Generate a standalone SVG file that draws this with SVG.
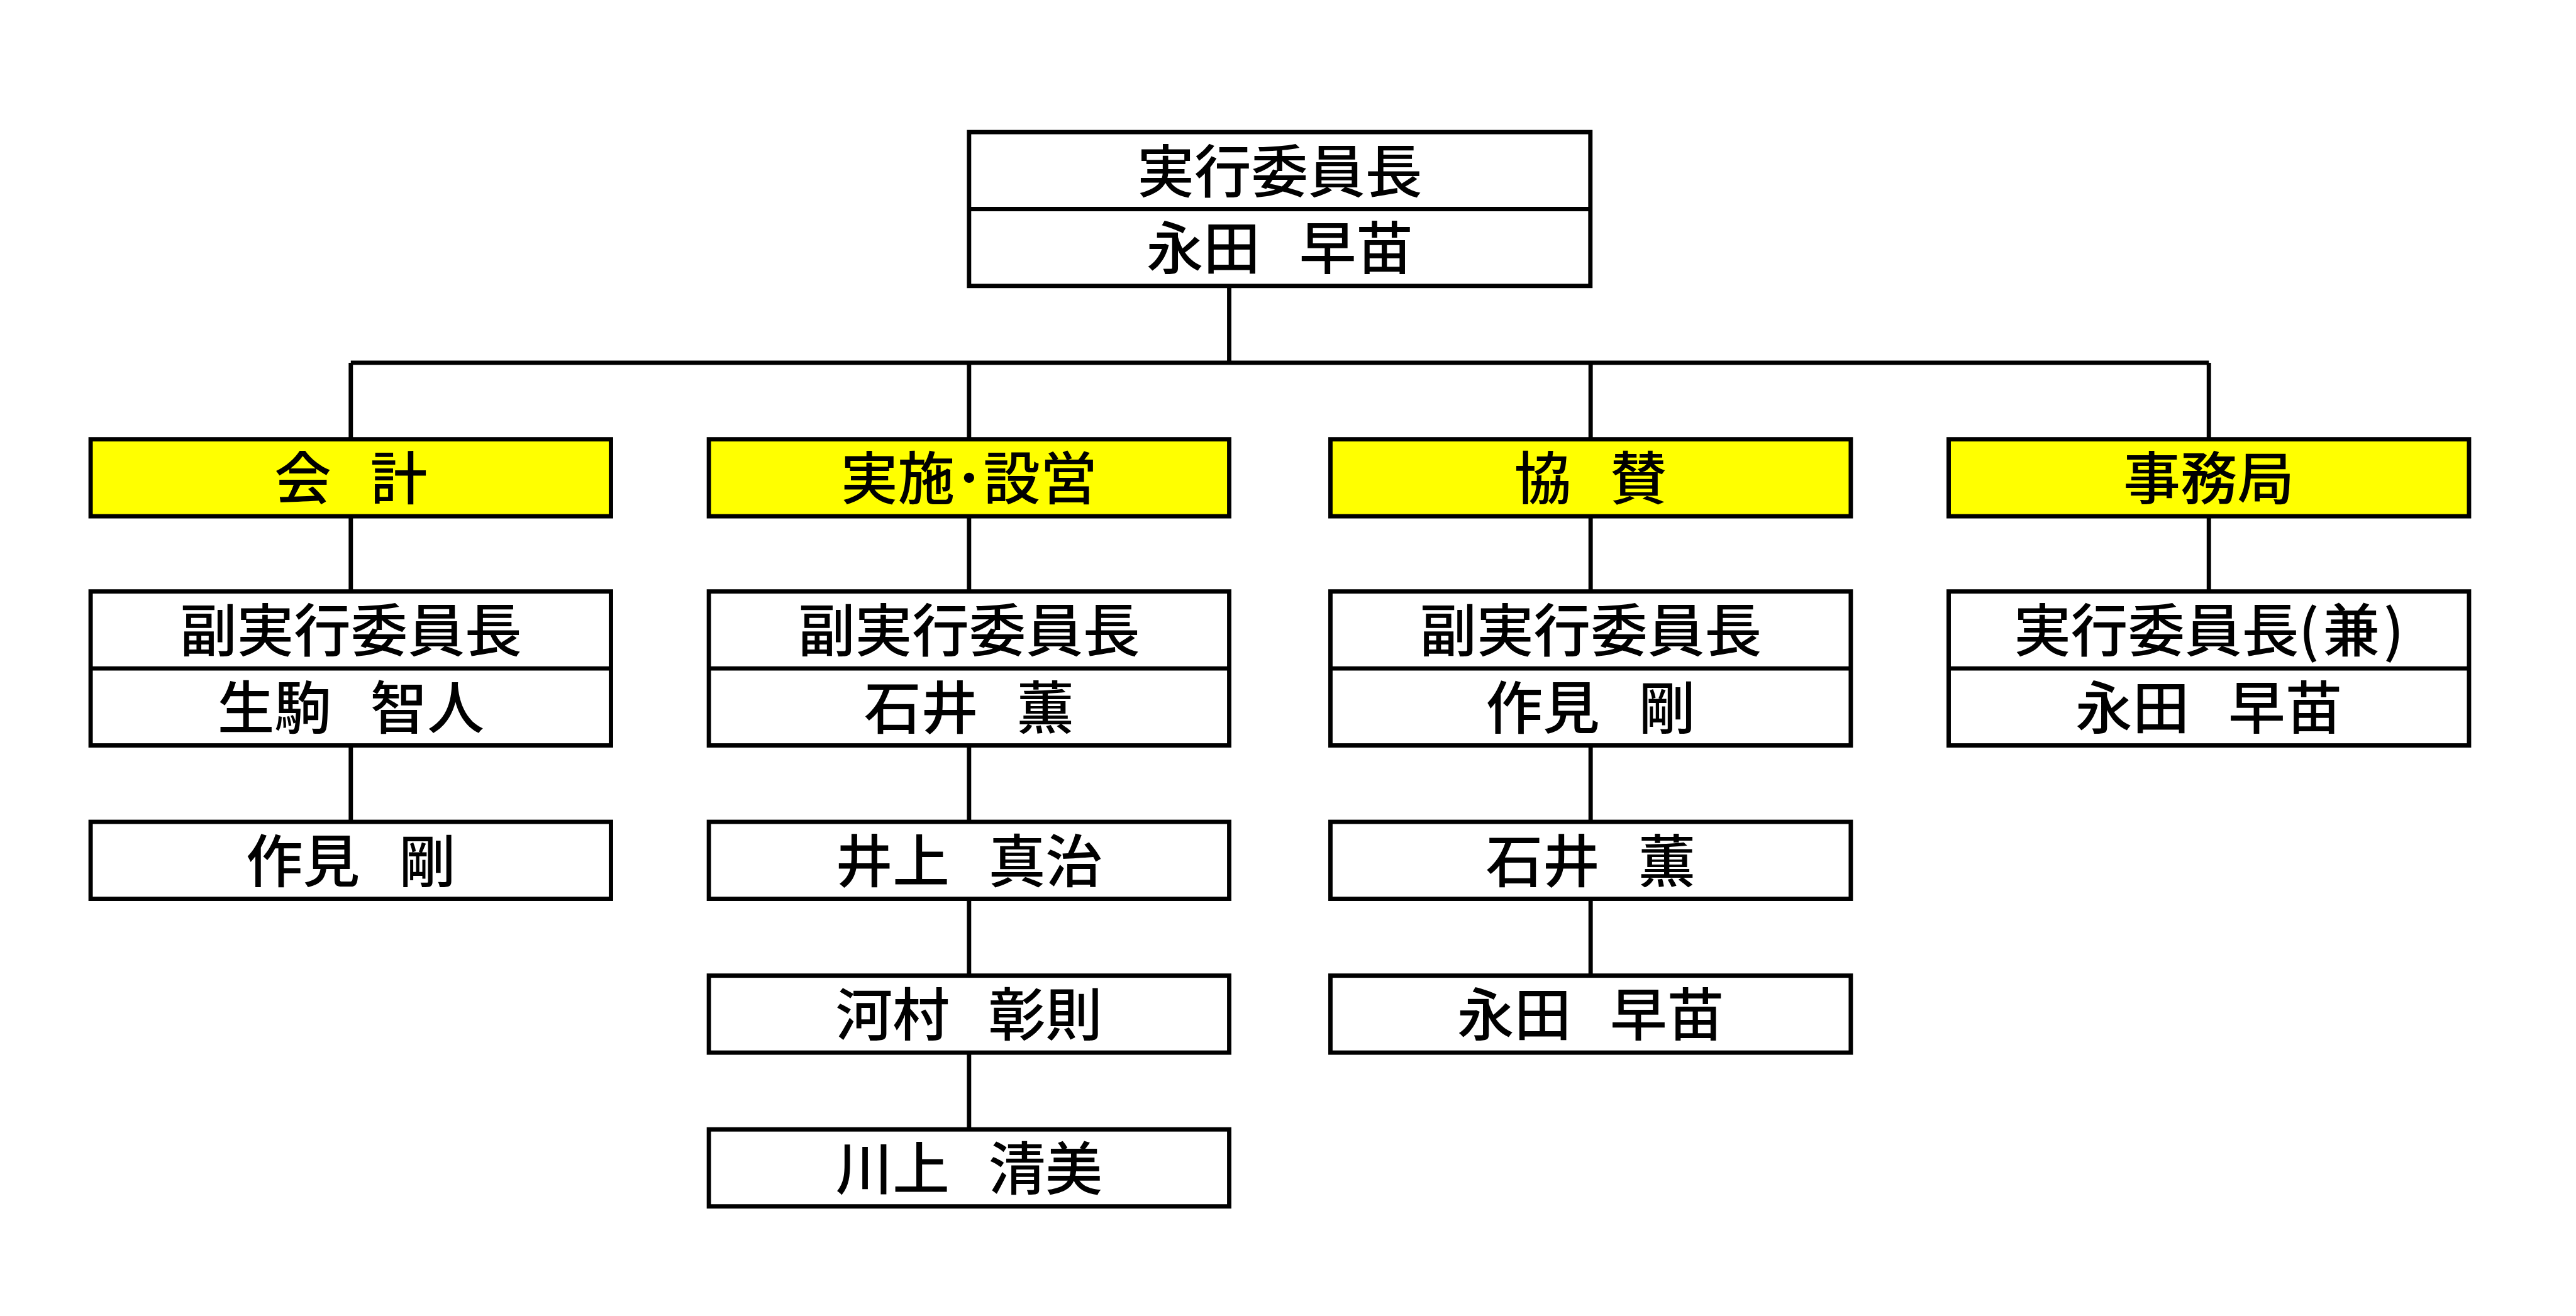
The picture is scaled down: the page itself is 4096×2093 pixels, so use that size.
<svg xmlns="http://www.w3.org/2000/svg" width="4096" height="2093" viewBox="0 0 4096 2093">
<style>
.box{fill:#ffffff;stroke:#000000;stroke-width:7}
.hl{fill:#ffff00;stroke:#000000;stroke-width:7}
.div{stroke:#000000;stroke-width:7;fill:none}
.con{stroke:#000000;stroke-width:7;fill:none}
.t{font-family:"Noto Sans CJK JP","Noto Sans CJK SC",sans-serif;font-size:92px;font-weight:500;fill:#000000;text-anchor:middle;word-spacing:42px}
</style>
<rect x="0" y="0" width="4096" height="2093" fill="#ffffff"/>
<g transform="scale(0.985)">
<g id="connectors">
<path class="con" d="M1984.3,461.7V585.7M566.3,585.7H3565.7M566.3,585.7V709.3M1564.3,585.7V709.3M2567.7,585.7V709.3M3565.7,585.7V709.3"/>
<path class="con" d="M566.3,833.6V955M566.3,1203.6V1327"/>
<path class="con" d="M1564.3,833.6V955M1564.3,1203.6V1327M1564.3,1451.3V1575.3M1564.3,1699.6V1823.6"/>
<path class="con" d="M2567.7,833.6V955M2567.7,1203.6V1327M2567.7,1451.3V1575.3"/>
<path class="con" d="M3565.7,833.6V955"/>
</g>
<g id="top">
<rect class="box" x="1564.3" y="213.3" width="1003" height="248.4"/>
<line class="div" x1="1564.3" y1="337.5" x2="2567.3" y2="337.5"/>
<text class="t" x="2065.8" y="310.4">実行委員長</text>
<text class="t" x="2065.8" y="434.6">永田 早苗</text>
</g>
<g id="kaikei">
<rect class="hl" x="146.3" y="709.3" width="840" height="124.3"/>
<text class="t" x="566.3" y="806.5">会 計</text>
</g>
<g id="jisshi">
<rect class="hl" x="1144.3" y="709.3" width="840" height="124.3"/>
<text class="t" x="1564.3" y="806.5">実施･設営</text>
</g>
<g id="kyousan">
<rect class="hl" x="2147.7" y="709.3" width="840" height="124.3"/>
<text class="t" x="2567.7" y="806.5">協 賛</text>
</g>
<g id="jimukyoku">
<rect class="hl" x="3145.7" y="709.3" width="840" height="124.3"/>
<text class="t" x="3565.7" y="806.5">事務局</text>
</g>
<g id="c1-vice">
<rect class="box" x="146.3" y="955" width="840" height="248.6"/>
<line class="div" x1="146.3" y1="1079.3" x2="986.3" y2="1079.3"/>
<text class="t" x="566.3" y="1052.2">副実行委員長</text>
<text class="t" x="566.3" y="1176.5">生駒 智人</text>
</g>
<g id="c1-b">
<rect class="box" x="146.3" y="1327" width="840" height="124.3"/>
<text class="t" x="566.3" y="1424.2">作見 剛</text>
</g>
<g id="c2-vice">
<rect class="box" x="1144.3" y="955" width="840" height="248.6"/>
<line class="div" x1="1144.3" y1="1079.3" x2="1984.3" y2="1079.3"/>
<text class="t" x="1564.3" y="1052.2">副実行委員長</text>
<text class="t" x="1564.3" y="1176.5">石井 薫</text>
</g>
<g id="c2-b">
<rect class="box" x="1144.3" y="1327" width="840" height="124.3"/>
<text class="t" x="1564.3" y="1424.2">井上 真治</text>
</g>
<g id="c2-c">
<rect class="box" x="1144.3" y="1575.3" width="840" height="124.3"/>
<text class="t" x="1564.3" y="1672.5">河村 彰則</text>
</g>
<g id="c2-d">
<rect class="box" x="1144.3" y="1823.6" width="840" height="124.3"/>
<text class="t" x="1564.3" y="1920.8">川上 清美</text>
</g>
<g id="c3-vice">
<rect class="box" x="2147.7" y="955" width="840" height="248.6"/>
<line class="div" x1="2147.7" y1="1079.3" x2="2987.7" y2="1079.3"/>
<text class="t" x="2567.7" y="1052.2">副実行委員長</text>
<text class="t" x="2567.7" y="1176.5">作見 剛</text>
</g>
<g id="c3-b">
<rect class="box" x="2147.7" y="1327" width="840" height="124.3"/>
<text class="t" x="2567.7" y="1424.2">石井 薫</text>
</g>
<g id="c3-c">
<rect class="box" x="2147.7" y="1575.3" width="840" height="124.3"/>
<text class="t" x="2567.7" y="1672.5">永田 早苗</text>
</g>
<g id="c4-vice">
<rect class="box" x="3145.7" y="955" width="840" height="248.6"/>
<line class="div" x1="3145.7" y1="1079.3" x2="3985.7" y2="1079.3"/>
<text class="t" x="3565.7" y="1052.2">実行委員長(<tspan dx="6">兼</tspan><tspan dx="6">)</tspan></text>
<text class="t" x="3565.7" y="1176.5">永田 早苗</text>
</g>
</g>
</svg>
